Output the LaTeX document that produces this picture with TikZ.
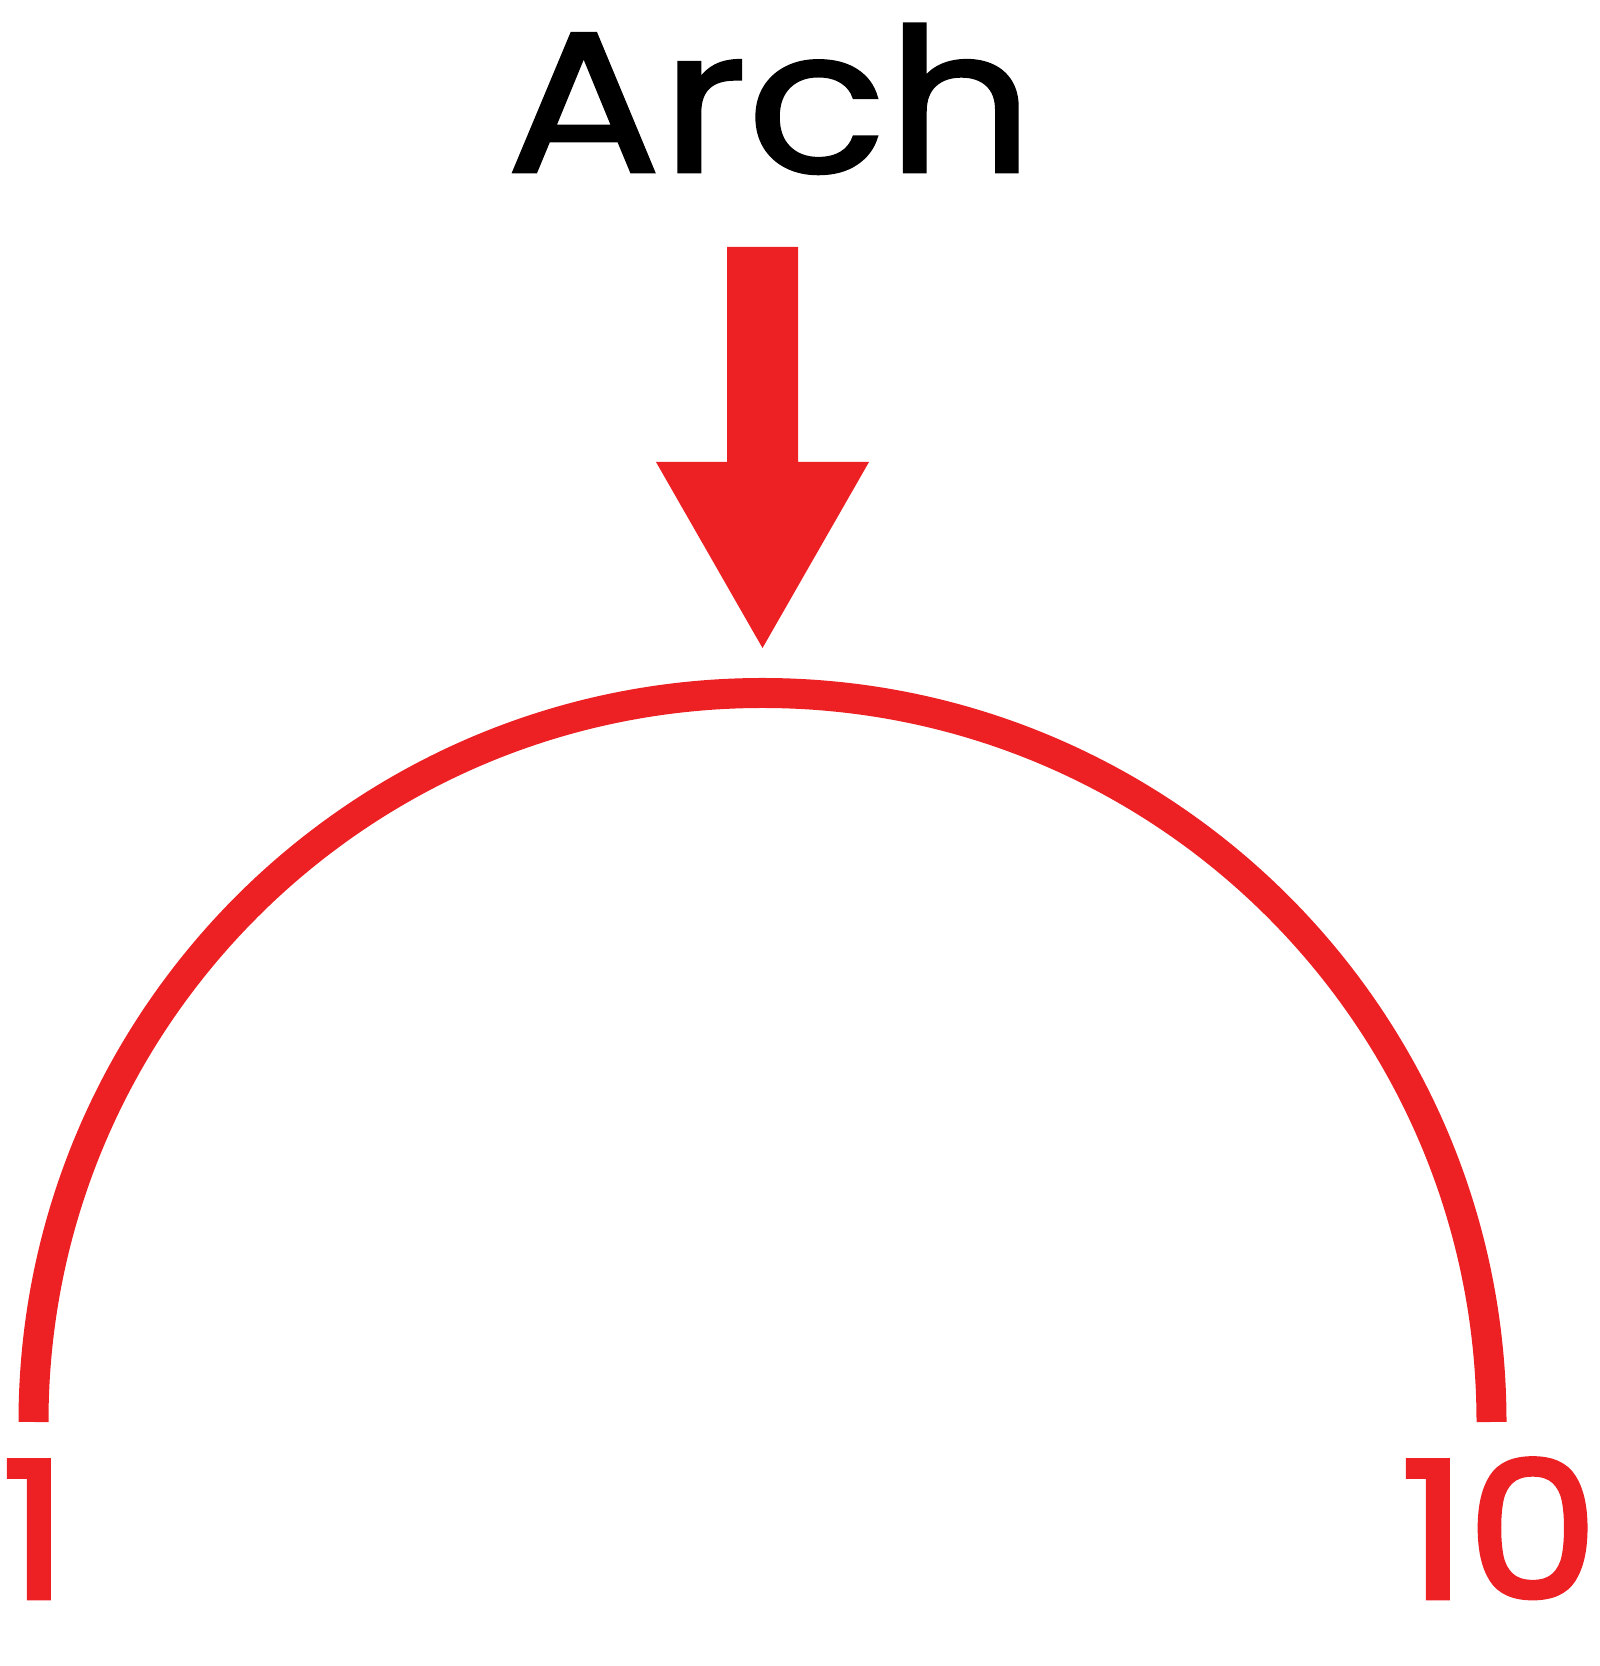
\documentclass[tikz,border=0pt]{standalone}
\usepackage{fontspec}
\setmainfont{Poppins}
\newfontfamily\titlefont{Poppins}[FakeStretch=1.15, FakeBold=1.5]
\newfontfamily\digitfont{Poppins}[FakeStretch=1.1, FakeBold=2.5]
\definecolor{archred}{RGB}{237,32,36}
\begin{document}
\begin{tikzpicture}[x=1pt,y=1pt,
  lbl/.style={inner sep=0pt, text=archred, font=\digitfont\fontsize{190}{190}\selectfont},
  title/.style={inner sep=0pt, text=black, font=\titlefont\fontsize{200}{200}\selectfont}]
\useasboundingbox (0,0) rectangle (1600,1666);
% title
\node[title, anchor=base] (t) at (770,1494) {Arch};
% arrow
\coordinate (tip) at (762.5,1018);
\fill[archred] (727,1419) -- (798,1419) -- (798,1204) -- (869,1204) -- (tip) -- (656,1204) -- (727,1204) -- cycle;
% arch
\coordinate (left) at (33.5,244);
\coordinate (right) at (1491.5,244);
\draw[archred, line width=30pt] (left) arc[start angle=180, end angle=0, radius=729];
% labels
\node[lbl, anchor=base west] (one) at (1,68) {1};
\node[lbl, anchor=base west] (ten) at (1400,68) {10};
\end{tikzpicture}
\end{document}
